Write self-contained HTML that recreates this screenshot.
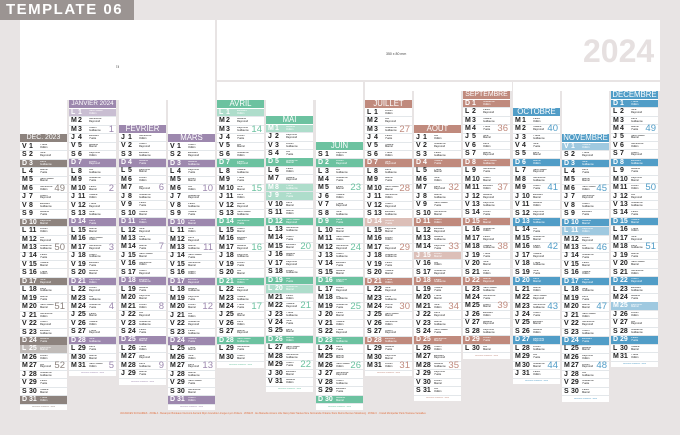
<!DOCTYPE html>
<html><head><meta charset="utf-8">
<style>
body{margin:0;width:680px;height:435px;background:#e8e4e4;position:relative;overflow:hidden;font-family:"Liberation Sans",sans-serif}
.a{position:absolute}
.w{background:#fff;position:absolute}
.tag{left:0;top:0;width:134px;height:20px;background:#9b9492;color:#fff;font-weight:bold;font-size:15px;letter-spacing:1.5px;line-height:20px;padding-left:6px;box-sizing:border-box}
.sz{font-size:3.5px;color:#444;position:absolute;white-space:nowrap}
.hd{position:absolute;width:47px;height:8.2px;color:#fff;font-size:7.8px;line-height:8.8px;text-align:center;white-space:nowrap;overflow:hidden}
.r{position:absolute;width:47px;height:7.6px;border-bottom:0.85px solid #e3e7ea;font-weight:bold;font-size:7px;line-height:8.2px;color:#222}
.r .l{position:absolute;left:2px}
.r .n{position:absolute;left:9px}
.r .s{position:absolute;left:20px;top:1.3px;font-size:2.6px;line-height:2.8px;font-weight:normal;width:20px;overflow:hidden;white-space:nowrap}
.r .wk{position:absolute;right:2px;font-size:9.5px;font-weight:normal;line-height:8.6px}
.ft{position:absolute;width:47px;height:3px;font-size:2px;text-align:center;color:#888;white-space:nowrap;overflow:hidden}
</style></head><body>
<div class="a tag">TEMPLATE 06</div>
<div class="w" style="left:20px;top:20px;width:195px;height:80px"></div>
<div class="w" style="left:217px;top:20px;width:443px;height:60px"></div>
<div class="w" style="left:217px;top:82px;width:146px;height:18px"></div>
<div class="w" style="left:365px;top:82px;width:147px;height:9px"></div>
<div class="w" style="left:513px;top:82px;width:147px;height:9px"></div>
<div class="a" style="left:583px;top:33px;font-size:32px;font-weight:bold;color:#e6e0e0">2024</div>
<div class="sz" style="left:106px;top:65px">195 x 740 mm</div>
<div class="sz" style="left:386px;top:52px">350 x 80 mm</div>
<div class="sz" style="left:289px;top:99px">146 x 80 mm</div>
<div class="sz" style="left:438px;top:99px">146 x 80 mm</div>
<div class="sz" style="left:570px;top:99px">146 x 80 mm</div>
<div class="a" style="left:120px;top:412px;width:445px;height:3px;font-size:2.4px;color:#e07040;white-space:nowrap;overflow:hidden">VACANCES SCOLAIRES · ZONE A · Besançon Bordeaux Clermont-Ferrand Dijon Grenoble Limoges Lyon Poitiers · ZONE B · Aix-Marseille Amiens Lille Nancy-Metz Nantes Nice Normandie Orléans-Tours Reims Rennes Strasbourg · ZONE C · Créteil Montpellier Paris Toulouse Versailles</div>
<div id="cal"></div>
<script>
var M=[["DÉC. 2023",20,134,"#8d837e",2023,11],["JANVIER 2024",69,100,"#9d88ae",2024,0],["FÉVRIER",119,125,"#9d88ae",2024,1],["MARS",168,134,"#9d88ae",2024,2],["AVRIL",217,100,"#6cc2a0",2024,3],["MAI",266,116,"#6cc2a0",2024,4],["JUIN",316,142,"#6cc2a0",2024,5],["JUILLET",365,100,"#c08a7d",2024,6],["AOÛT",414,125,"#c08a7d",2024,7],["SEPTEMBRE",463,91,"#c08a7d",2024,8],["OCTOBRE",513,108,"#519dc7",2024,9],["NOVEMBRE",562,134,"#519dc7",2024,10],["DÉCEMBRE",611,91,"#519dc7",2024,11]];
var hol={"2023-11-25":1,"2024-0-1":1,"2024-3-1":1,"2024-4-1":1,"2024-4-8":1,"2024-4-9":1,"2024-4-20":1,"2024-6-14":1,"2024-7-15":1,"2024-10-1":1,"2024-10-11":1,"2024-11-25":1};
var L=["D","L","M","M","J","V","S"];
var names=["Saint Basile","Geneviève","Odilon","Edouard","Mélaine","Raymond","Lucien","Alix","Guillaume","Paulin","Tatiana","Yvette","Nina","Rémi","Marcel"];
function wk(d){var t=new Date(Date.UTC(d.getFullYear(),d.getMonth(),d.getDate()));var dn=t.getUTCDay()||7;t.setUTCDate(t.getUTCDate()+4-dn);var y=new Date(Date.UTC(t.getUTCFullYear(),0,1));return Math.ceil(((t-y)/864e5+1)/7);}
function tint(h){var r=parseInt(h.substr(1,2),16),g=parseInt(h.substr(3,2),16),b=parseInt(h.substr(5,2),16);return "rgb("+Math.round(r+(255-r)*.45)+","+Math.round(g+(255-g)*.45)+","+Math.round(b+(255-b)*.45)+")";}
var h="";
M.forEach(function(m){
 var x=m[1],y=m[2],c=m[3],n=new Date(m[4],m[5]+1,0).getDate();
 var top0=(x<216)?20:82;var end=y+8.5+n*8.45+6;
 var fs=m[0].length>10?"6.3px":(m[0].length>8?"6.9px":"7.8px");
 h+='<div class="w" style="left:'+x+'px;top:'+top0+'px;width:47px;height:'+(end-top0)+'px"></div>';
 h+='<div class="hd" style="left:'+x+'px;top:'+y+'px;background:'+c+';font-size:'+fs+'">'+m[0]+'</div>';
 for(var i=0;i<n;i++){var d=new Date(m[4],m[5],i+1),wd=d.getDay(),t=y+8.6+i*8.45;
  var ho=hol[m[4]+"-"+m[5]+"-"+(i+1)],st="";
  if(ho)st="background:"+tint(c)+";color:#fff;";else if(wd==0)st="background:"+c+";color:#fff;";
  var wn=(wd==3&&!ho)?'<span class="wk" style="color:'+c+'">'+wk(d)+'</span>':'';
  h+='<div class="r" style="left:'+x+'px;top:'+t+'px;'+st+'"><span class="l">'+L[wd]+'</span><span class="n">'+(i+1)+'</span><span class="s">'+names[(i+m[5])%15]+'<br>'+names[(i*3+2)%15]+'</span>'+wn+'</div>';
 }
 h+='<div class="ft" style="left:'+x+'px;top:'+(end-4)+'px;color:'+c+'">vacances scolaires · zone</div>';
});
document.getElementById("cal").innerHTML=h;
</script>
</body></html>
